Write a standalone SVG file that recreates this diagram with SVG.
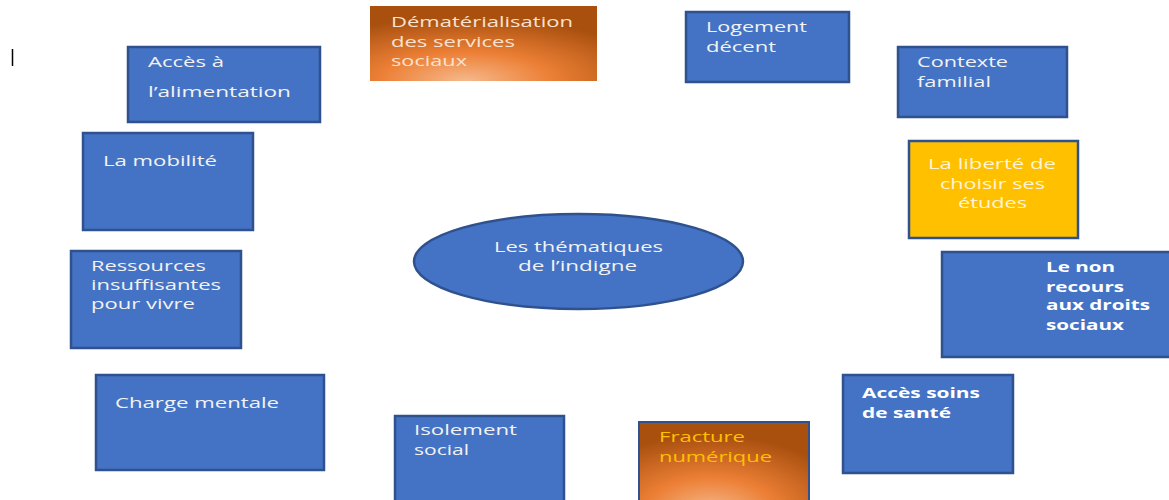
<svg xmlns="http://www.w3.org/2000/svg" width="1169" height="500" viewBox="0 0 1169 500">
  <defs>
    <radialGradient id="orangeGlow" cx="0.42" cy="1" r="0.85" fx="0.42" fy="1">
      <stop offset="0" stop-color="#f6b98c"/>
      <stop offset="0.45" stop-color="#ec7f35"/>
      <stop offset="1" stop-color="#a9500f"/>
    </radialGradient>
    <style>
      .box { fill: #4472c4; stroke: #2f528f; stroke-width: 2.5; }
      .gold { fill: #ffc000; stroke: #2f528f; stroke-width: 2.5; }
      .orange { fill: url(#orangeGlow); }
      .orange-b { fill: url(#orangeGlow); stroke: #2f528f; stroke-width: 2; }
      text { font-family: "Open Sans", "Liberation Sans", sans-serif; font-size: 15px; fill: #f2f2f2; }
      .bold { font-weight: 700; fill: #ffffff; }
      .peach { fill: #f9e2cf; }
      .pale { fill: #fff4d6; }
      .amber { fill: #ffc000; }
    </style>
  </defs>

  <rect width="1169" height="500" fill="#ffffff"/>

  <!-- text cursor mark -->
  <line x1="12.5" y1="49" x2="12.5" y2="66" stroke="#000000" stroke-width="1.5"/>

  <g id="connectors"/>

  <g id="node-centre">
    <ellipse class="box" cx="578.5" cy="261.5" rx="164.5" ry="47.5"/>
    <text x="494" y="252" textLength="169" lengthAdjust="spacingAndGlyphs">Les thématiques</text>
    <text x="518" y="271" textLength="119" lengthAdjust="spacingAndGlyphs">de l’indigne</text>
  </g>

  <g id="node-alimentation">
    <rect class="box" x="128" y="47" width="192" height="75"/>
    <text x="148" y="67" textLength="76" lengthAdjust="spacingAndGlyphs">Accès à</text>
    <text x="148" y="97" textLength="143" lengthAdjust="spacingAndGlyphs">l’alimentation</text>
  </g>

  <g id="node-dematerialisation">
    <rect class="orange" x="370" y="6" width="227" height="75"/>
    <text class="peach" x="391" y="27" textLength="182" lengthAdjust="spacingAndGlyphs">Dématérialisation</text>
    <text class="peach" x="391" y="47" textLength="124" lengthAdjust="spacingAndGlyphs">des services</text>
    <text class="peach" x="391" y="66" textLength="76" lengthAdjust="spacingAndGlyphs">sociaux</text>
  </g>

  <g id="node-logement">
    <rect class="box" x="686" y="12" width="163" height="70"/>
    <text x="706" y="32" textLength="101" lengthAdjust="spacingAndGlyphs">Logement</text>
    <text x="706" y="52" textLength="70" lengthAdjust="spacingAndGlyphs">décent</text>
  </g>

  <g id="node-contexte">
    <rect class="box" x="898" y="47" width="169" height="70"/>
    <text x="917" y="67" textLength="91" lengthAdjust="spacingAndGlyphs">Contexte</text>
    <text x="917" y="87" textLength="74" lengthAdjust="spacingAndGlyphs">familial</text>
  </g>

  <g id="node-liberte">
    <rect class="gold" x="909" y="141" width="169" height="97"/>
    <text class="pale" x="928" y="169" textLength="128" lengthAdjust="spacingAndGlyphs">La liberté de</text>
    <text class="pale" x="940" y="189" textLength="105" lengthAdjust="spacingAndGlyphs">choisir ses</text>
    <text class="pale" x="958" y="208" textLength="69" lengthAdjust="spacingAndGlyphs">études</text>
  </g>

  <g id="node-non-recours">
    <rect class="box" x="942" y="252" width="240" height="105"/>
    <text class="bold" x="1046" y="272" textLength="69" lengthAdjust="spacingAndGlyphs">Le non</text>
    <text class="bold" x="1046" y="292" textLength="78" lengthAdjust="spacingAndGlyphs">recours</text>
    <text class="bold" x="1046" y="310" textLength="104" lengthAdjust="spacingAndGlyphs">aux droits</text>
    <text class="bold" x="1046" y="330" textLength="78" lengthAdjust="spacingAndGlyphs">sociaux</text>
  </g>

  <g id="node-mobilite">
    <rect class="box" x="83" y="133" width="170" height="97"/>
    <text x="103" y="166" textLength="114" lengthAdjust="spacingAndGlyphs">La mobilité</text>
  </g>

  <g id="node-ressources">
    <rect class="box" x="71" y="251" width="170" height="97"/>
    <text x="91" y="271" textLength="115" lengthAdjust="spacingAndGlyphs">Ressources</text>
    <text x="91" y="290" textLength="130" lengthAdjust="spacingAndGlyphs">insuffisantes</text>
    <text x="91" y="309" textLength="104" lengthAdjust="spacingAndGlyphs">pour vivre</text>
  </g>

  <g id="node-charge">
    <rect class="box" x="96" y="375" width="228" height="95"/>
    <text x="115" y="408" textLength="164" lengthAdjust="spacingAndGlyphs">Charge mentale</text>
  </g>

  <g id="node-isolement">
    <rect class="box" x="395" y="416" width="169" height="94"/>
    <text x="414" y="435" textLength="103" lengthAdjust="spacingAndGlyphs">Isolement</text>
    <text x="414" y="455" textLength="55" lengthAdjust="spacingAndGlyphs">social</text>
  </g>

  <g id="node-fracture">
    <rect class="orange-b" x="639" y="422" width="170" height="90"/>
    <text class="amber" x="659" y="442" textLength="86" lengthAdjust="spacingAndGlyphs">Fracture</text>
    <text class="amber" x="659" y="462" textLength="113" lengthAdjust="spacingAndGlyphs">numérique</text>
  </g>

  <g id="node-soins">
    <rect class="box" x="843" y="375" width="170" height="98"/>
    <text class="bold" x="862" y="398" textLength="118" lengthAdjust="spacingAndGlyphs">Accès soins</text>
    <text class="bold" x="862" y="418" textLength="89" lengthAdjust="spacingAndGlyphs">de santé</text>
  </g>
</svg>
